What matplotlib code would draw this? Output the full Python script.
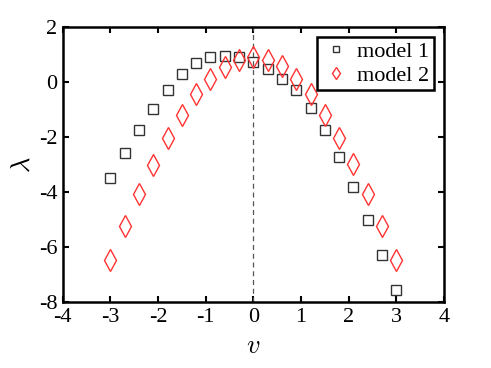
import numpy as np
from matplotlib import pyplot as plt

plt.rcParams['mathtext.fontset'] = 'cm'
plt.rcParams['font.family'] = ['Liberation Serif', 'DejaVu Serif']
plt.rcParams['axes.unicode_minus'] = False

# data
v = np.round(np.arange(-3.0, 3.01, 0.3), 1)
model_1 = [-3.48, -2.57, -1.73, -0.97, -0.30, 0.27, 0.69, 0.90, 0.95, 0.89, 0.73,
           0.47, 0.12, -0.31, -0.95, -1.76, -2.74, -3.83, -5.00, -6.27, -7.57]
model_2 = [-6.47, -5.24, -4.08, -3.02, -2.04, -1.20, -0.44, 0.12, 0.56, 0.79, 0.89,
           0.80, 0.57, 0.12, -0.43, -1.19, -2.03, -3.00, -4.07, -5.23, -6.46]
x_ticks = [-4, -3, -2, -1, 0, 1, 2, 3, 4]
y_ticks = [-8, -6, -4, -2, 0, 2]

fig = plt.figure(figsize=(4.91, 3.68), dpi=100)
ax = fig.add_axes([0.128, 0.179, 0.776, 0.748])

ax.axvline(0, color='#555555', linestyle=(0, (4, 3)), linewidth=0.9)
ax.plot(v, model_1, linestyle='none', marker='s', markersize=6.5,
        markerfacecolor='none', markeredgecolor='#333333', markeredgewidth=1.0,
        label='model 1')
ax.plot(v, model_2, linestyle='none', marker='d', markersize=11,
        markerfacecolor='none', markeredgecolor='#ff3333', markeredgewidth=1.0,
        label='model 2')

ax.set_xlim(-4, 4)
ax.set_ylim(-8, 2)
ax.set_xticks(x_ticks)
ax.set_xticklabels([str(t) for t in x_ticks])
ax.set_yticks(y_ticks)
ax.set_yticklabels([str(t) for t in y_ticks])
ax.tick_params(direction='in', top=True, right=True, length=4, width=1.5,
               labelsize=16, pad=4)
for s in ax.spines.values():
    s.set_linewidth(1.8)

ax.set_xlabel(r'$v$', fontsize=19, labelpad=7)
ax.set_ylabel(r'$\lambda$', fontsize=19, labelpad=3)

leg = ax.legend(loc='upper right', fontsize=16, markerscale=0.6,
                fancybox=False, framealpha=1, edgecolor='black',
                borderpad=0.2, handletextpad=0.3, labelspacing=0.15,
                handlelength=1.3, borderaxespad=0.45)
leg.get_frame().set_linewidth(1.8)

plt.savefig('out.png', dpi=100)
